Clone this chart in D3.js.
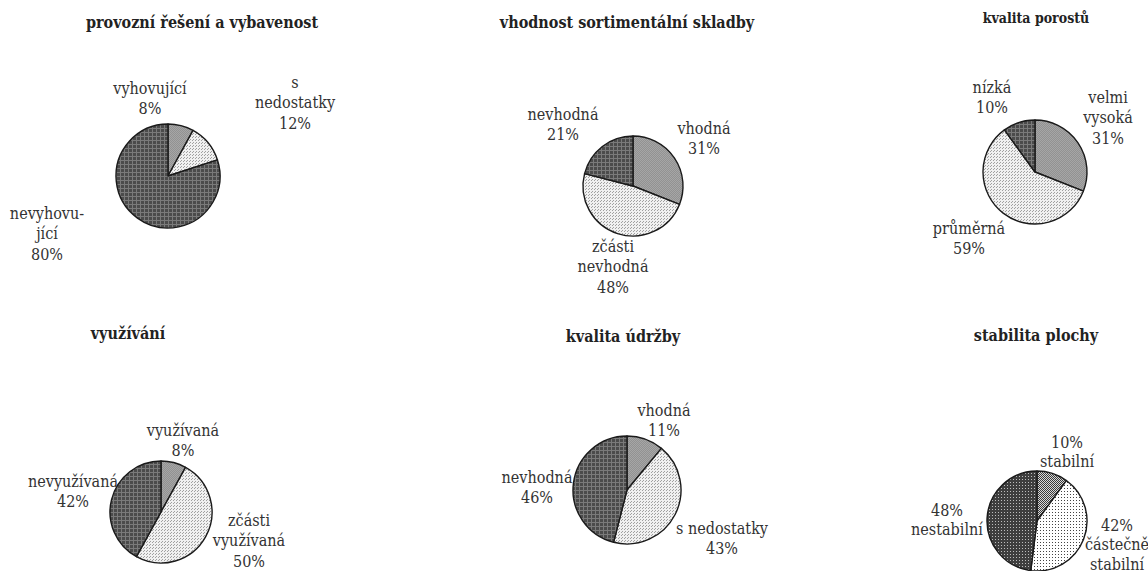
<!DOCTYPE html>
<html lang="cs">
<head>
<meta charset="utf-8">
<script src="https://cdn.jsdelivr.net/npm/d3@7"></script>
<style>
  html, body { margin: 0; padding: 0; background: #fff; }
  svg { display: block; }
</style>
</head>
<body>
<svg id="chart" width="1148" height="571"></svg>
<script>
// Chart titles
const titles = [
  "provozní řešení a vybavenost",
  "vhodnost sortimentální skladby",
  "kvalita porostů",
  "využívání",
  "kvalita údržby",
  "stabilita plochy"
];

// Category names per chart (line breaks as drawn)
const categories1 = [["vyhovující"], ["s", "nedostatky"], ["nevyhovu-", "jící"]];
const categories2 = [["vhodná"], ["zčásti", "nevhodná"], ["nevhodná"]];
const categories3 = [["velmi", "vysoká"], ["průměrná"], ["nízká"]];
const categories4 = [["využívaná"], ["zčásti", "využívaná"], ["nevyužívaná"]];
const categories5 = [["vhodná"], ["s nedostatky"], ["nevhodná"]];
const categories6 = [["stabilní"], ["částečně", "stabilní"], ["nestabilní"]];

// Shares in percent, clockwise from 12 o'clock
const values1 = [8, 12, 80];
const values2 = [31, 48, 21];
const values3 = [31, 59, 10];
const values4 = [8, 50, 42];
const values5 = [11, 43, 46];
const values6 = [10, 42, 48];

// Layout: pie centre, radius, title placement and label anchors
const layout = [
  { cx: 168, cy: 176, r: 52, tx: 202, ty: 22, ts: 16, pctFirst: false, lh: 20.5,
    labels: [[150, 88], [295, 82], [47, 213]] },
  { cx: 633, cy: 186, r: 50, tx: 627, ty: 22, ts: 16, pctFirst: false, lh: 20.5,
    labels: [[704, 128], [613, 246], [563, 114]] },
  { cx: 1035, cy: 172, r: 52, tx: 1036, ty: 18, ts: 14, pctFirst: false, lh: 20.5,
    labels: [[1108, 97], [969, 228], [992, 87]] },
  { cx: 161, cy: 512, r: 51, tx: 128, ty: 333, ts: 16, pctFirst: false, lh: 20.5,
    labels: [[183, 430], [249, 520], [73, 481]] },
  { cx: 627, cy: 490, r: 54, tx: 623, ty: 336, ts: 16, pctFirst: false, lh: 20.5,
    labels: [[664, 410], [722, 528], [537, 477]] },
  { cx: 1037, cy: 521, r: 50, tx: 1036, ty: 335, ts: 16, pctFirst: true, lh: 19.5,
    labels: [[1067, 442], [1117, 525], [947, 510]] }
];

const charts = [
  { cats: categories1, vals: values1, fills: ["url(#pMed)", "url(#pLight)", "url(#pDark)"] },
  { cats: categories2, vals: values2, fills: ["url(#pMed)", "url(#pLight)", "url(#pDark)"] },
  { cats: categories3, vals: values3, fills: ["url(#pMed)", "url(#pLight)", "url(#pDark)"] },
  { cats: categories4, vals: values4, fills: ["url(#pMed)", "url(#pLight)", "url(#pDark)"] },
  { cats: categories5, vals: values5, fills: ["url(#pMed)", "url(#pLight)", "url(#pDark)"] },
  { cats: categories6, vals: values6, fills: ["url(#pFine)", "url(#pSparse)", "url(#pDarkDots)"] }
];

const FONT = "'DejaVu Serif Condensed', 'DejaVu Serif', serif";

const svg = d3.select("#chart");
const defs = svg.append("defs");

// Fill textures
function pattern(id, size, bg, pts, dotColor) {
  const p = defs.append("pattern")
    .attr("id", id).attr("patternUnits", "userSpaceOnUse")
    .attr("width", size).attr("height", size);
  p.append("rect").attr("width", size).attr("height", size).attr("fill", bg);
  pts.forEach(([x, y, w, h]) => {
    p.append("rect").attr("x", x).attr("y", y).attr("width", w).attr("height", h).attr("fill", dotColor);
  });
}
pattern("pDark", 4, "#4b4b4b", [[0, 0, 4, 1], [0, 0, 1, 4]], "#7a7a7a");
pattern("pMed", 2, "#a6a6a6", [[0, 0, 1, 1], [1, 1, 1, 1]], "#929292");
pattern("pLight", 3, "#f0f0f0", [[0, 0, 1, 1], [1, 2, 1, 1]], "#a0a0a0");
pattern("pFine", 2, "#d8d8d8", [[0, 0, 1, 1], [1, 1, 1, 1]], "#3a3a3a");
pattern("pSparse", 3, "#ffffff", [[0, 0, 1, 1]], "#444444");
pattern("pDarkDots", 3, "#3e3e3e", [[0, 0, 1, 1]], "#bdbdbd");

const pie = d3.pie().sort(null).value(d => d);

charts.forEach((c, i) => {
  const L = layout[i];
  const g = svg.append("g");

  g.append("text")
    .attr("font-family", FONT)
    .attr("font-weight", "bold")
    .attr("fill", "#222")
    .attr("font-size", L.ts)
    .attr("x", L.tx).attr("y", L.ty)
    .attr("dy", "0.35em")
    .attr("text-anchor", "middle")
    .text(titles[i]);

  const arc = d3.arc().innerRadius(0).outerRadius(L.r);
  const pg = g.append("g").attr("transform", `translate(${L.cx},${L.cy})`);
  pg.selectAll("path").data(pie(c.vals)).join("path")
    .attr("d", arc)
    .attr("fill", (d, j) => c.fills[j])
    .attr("stroke", "#1a1a1a")
    .attr("stroke-width", 1.4)
    .attr("stroke-linejoin", "round");

  c.cats.forEach((lines, j) => {
    const pct = c.vals[j] + "%";
    const all = L.pctFirst ? [pct, ...lines] : [...lines, pct];
    const t = g.append("text")
      .attr("font-family", FONT)
      .attr("fill", "#333")
      .attr("font-size", 16)
      .attr("text-anchor", "middle");
    all.forEach((s, k) => {
      t.append("tspan")
        .attr("x", L.labels[j][0])
        .attr("y", L.labels[j][1] + k * L.lh)
        .attr("dy", "0.35em")
        .text(s);
    });
  });
});
</script>
</body>
</html>
